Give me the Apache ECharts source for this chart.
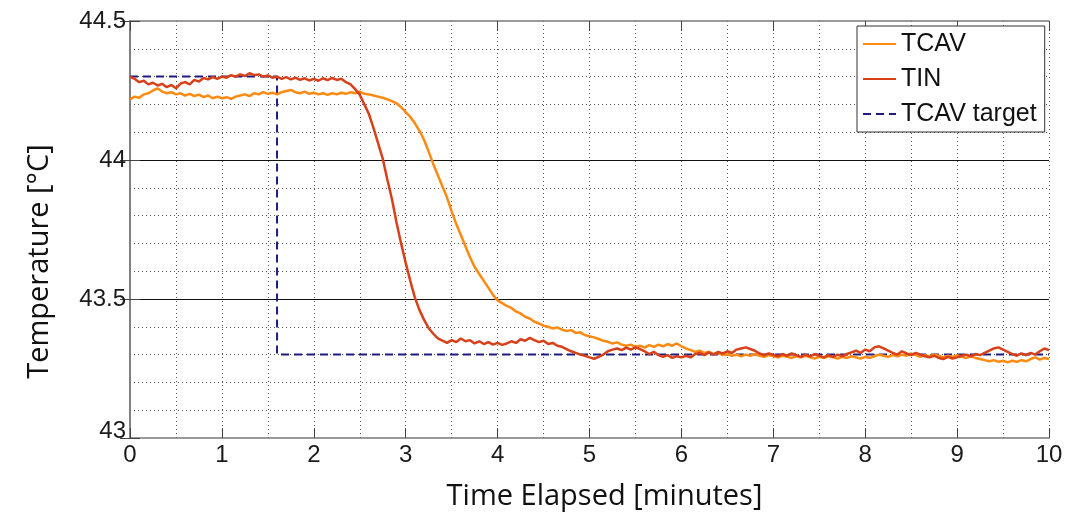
<!DOCTYPE html>
<html>
<head>
<meta charset="utf-8">
<script src="https://cdn.jsdelivr.net/npm/echarts@6/dist/echarts.min.js"></script>
<style>
html,body{margin:0;padding:0;background:#fff;}
#chart{width:1092px;height:516px;}
</style>
</head>
<body>
<div id="chart"></div>
<script>
// Sampling grid of the recorded traces (minutes)
const timeStart = 0;
const timeStep = 0.05;

// TCAV (°C), read every 0.05 min
const tcavValues = [
44.218,44.228,44.224,44.236,44.240,44.250,44.258,44.246,44.240,44.244,
44.236,44.240,44.232,44.238,44.230,44.235,44.226,44.232,44.222,44.228,
44.222,44.226,44.220,44.228,44.232,44.236,44.230,44.240,44.236,44.244,
44.238,44.242,44.236,44.244,44.248,44.252,44.244,44.240,44.246,44.238,
44.242,44.236,44.240,44.234,44.240,44.236,44.242,44.238,44.244,44.240,
44.246,44.238,44.236,44.232,44.228,44.224,44.218,44.212,44.204,44.190,
44.172,44.155,44.132,44.105,44.072,44.030,43.985,43.945,43.905,43.865,
43.815,43.770,43.730,43.690,43.650,43.615,43.590,43.565,43.540,43.515,
43.495,43.485,43.475,43.468,43.455,43.448,43.436,43.430,43.418,43.412,
43.404,43.400,43.394,43.398,43.390,43.385,43.388,43.378,43.380,43.370,
43.366,43.362,43.356,43.350,43.346,43.340,43.344,43.336,43.332,43.336,
43.328,43.332,43.325,43.334,43.328,43.336,43.330,43.338,43.332,43.340,
43.330,43.322,43.316,43.310,43.314,43.306,43.310,43.302,43.306,43.298,
43.302,43.296,43.300,43.294,43.300,43.296,43.302,43.296,43.292,43.298,
43.294,43.290,43.296,43.292,43.288,43.294,43.290,43.296,43.290,43.286,
43.292,43.288,43.294,43.290,43.286,43.292,43.288,43.294,43.290,43.286,
43.292,43.288,43.294,43.300,43.296,43.292,43.298,43.294,43.300,43.296,
43.304,43.298,43.292,43.298,43.294,43.300,43.296,43.290,43.296,43.292,
43.298,43.292,43.288,43.294,43.288,43.284,43.280,43.276,43.280,43.274,
43.278,43.272,43.278,43.274,43.280,43.276,43.284,43.290,43.282,43.288,
43.284
];

// TIN (°C), read every 0.05 min
const tinValues = [
44.300,44.292,44.280,44.285,44.272,44.278,44.268,44.274,44.262,44.270,
44.258,44.275,44.280,44.272,44.288,44.282,44.295,44.290,44.298,44.292,
44.300,44.296,44.305,44.300,44.308,44.302,44.312,44.305,44.308,44.300,
44.304,44.296,44.300,44.292,44.298,44.290,44.296,44.288,44.294,44.286,
44.292,44.285,44.294,44.287,44.295,44.288,44.292,44.280,44.272,44.255,
44.235,44.200,44.165,44.115,44.060,44.005,43.930,43.860,43.775,43.700,
43.630,43.565,43.505,43.460,43.425,43.395,43.375,43.358,43.350,43.342,
43.352,43.345,43.358,43.348,43.352,43.340,43.348,43.338,43.345,43.336,
43.342,43.335,43.340,43.348,43.342,43.355,43.350,43.360,43.352,43.345,
43.350,43.338,43.342,43.332,43.328,43.320,43.312,43.306,43.300,43.296,
43.290,43.285,43.292,43.300,43.312,43.318,43.322,43.316,43.325,43.318,
43.326,43.320,43.312,43.302,43.310,43.298,43.292,43.298,43.288,43.294,
43.290,43.296,43.290,43.302,43.306,43.298,43.308,43.300,43.310,43.304,
43.312,43.306,43.318,43.322,43.326,43.320,43.314,43.304,43.298,43.304,
43.300,43.294,43.302,43.296,43.304,43.298,43.292,43.300,43.294,43.302,
43.296,43.290,43.298,43.292,43.300,43.294,43.302,43.308,43.314,43.306,
43.318,43.312,43.326,43.330,43.322,43.314,43.306,43.300,43.312,43.304,
43.298,43.306,43.300,43.294,43.290,43.296,43.288,43.284,43.292,43.286,
43.290,43.296,43.300,43.294,43.302,43.298,43.306,43.314,43.322,43.326,
43.318,43.310,43.302,43.296,43.304,43.298,43.306,43.300,43.312,43.322,
43.316
];

// TCAV target step
const targetTimes = [0, 1.6, 1.6, 10];
const targetValues = [44.3, 44.3, 43.3, 43.3];

// Axis settings / tick labels
const xTicks = [0,1,2,3,4,5,6,7,8,9,10];
const yTicks = [43, 43.5, 44, 44.5];
const seriesNames = ['TCAV', 'TIN', 'TCAV target'];

function toPairs(values) {
  return values.map((v, i) => [+(timeStart + i * timeStep).toFixed(2), v]);
}
const targetPairs = targetTimes.map((t, i) => [t, targetValues[i]]);

const chart = echarts.init(document.getElementById('chart'), null, {renderer: 'canvas'});
const dotted = {color: '#555', width: 1, type: [1, 3]};
const frameColor = '#7a7a7a';
const labelFont = {fontFamily: 'Liberation Sans, Arial, sans-serif', fontSize: 24, color: '#1a1a1a'};
const titleFont = {fontFamily: 'Open Sans, Noto Sans, sans-serif', fontSize: 29, color: '#111'};

chart.setOption({
  animation: false,
  backgroundColor: '#fff',
  grid: {left: 130, right: 43, top: 21, bottom: 78, containLabel: false},
  legend: {
    data: seriesNames,
    orient: 'vertical',
    left: 857, top: 26,
    itemWidth: 33, itemHeight: 14, itemGap: 7,
    padding: [4, 8, 4, 5],
    backgroundColor: '#fff',
    borderColor: '#333', borderWidth: 1, borderRadius: 0,
    itemStyle: {opacity: 0},
    textStyle: {fontFamily: 'Liberation Sans, Arial, sans-serif', fontSize: 25, color: '#111', lineHeight: 28}
  },
  xAxis: [{
    type: 'value', min: xTicks[0], max: xTicks[xTicks.length-1], interval: 1,
    position: 'bottom',
    name: 'Time Elapsed [minutes]', nameLocation: 'middle', nameGap: 44,
    nameTextStyle: Object.assign({padding: [0,0,0,30]}, titleFont),
    axisLine: {lineStyle: {color: frameColor, width: 1.5}},
    axisTick: {inside: true, length: 10, lineStyle: {color: '#444'}},
    axisLabel: Object.assign({margin: 5}, labelFont),
    splitLine: {show: true, lineStyle: dotted},
    minorTick: {show: false, splitNumber: 2},
    minorSplitLine: {show: true, lineStyle: dotted}
  }, {
    type: 'value', min: 0, max: 10, interval: 1, position: 'top',
    axisLine: {lineStyle: {color: frameColor, width: 1.5}},
    axisTick: {inside: true, length: 10, lineStyle: {color: '#444'}},
    axisLabel: {show: false}, splitLine: {show: false}
  }],
  yAxis: [{
    type: 'value', min: yTicks[0], max: yTicks[yTicks.length-1], interval: 0.5,
    position: 'left',
    name: 'Temperature [°C]', nameLocation: 'middle', nameGap: 76,
    nameTextStyle: Object.assign({padding: [0,64,0,0]}, titleFont),
    axisLine: {lineStyle: {color: frameColor, width: 1.5}},
    axisTick: {inside: true, length: 10, lineStyle: {color: '#444'}},
    axisLabel: Object.assign({margin: 4, formatter: v => v === 43 ? '{low|43}' : String(v), rich: {low: Object.assign({padding: [0,0,14,0]}, labelFont)}}, labelFont),
    splitLine: {show: true, showMinLine: false, showMaxLine: false, lineStyle: {color: '#111', width: 1}},
    minorTick: {show: false, splitNumber: 5},
    minorSplitLine: {show: true, lineStyle: dotted}
  }, {
    type: 'value', min: 43, max: 44.5, interval: 0.5, position: 'right',
    axisLine: {show: true, lineStyle: {color: frameColor, width: 1.5}},
    axisTick: {show: true, inside: true, length: 10, lineStyle: {color: '#444'}},
    axisLabel: {show: false}, splitLine: {show: false}
  }],
  series: [{
    name: seriesNames[0], type: 'line', data: toPairs(tcavValues),
    symbol: 'none', showSymbol: false,
    lineStyle: {color: '#ff8a12', width: 2.5}, itemStyle: {color: '#ff8a12'}, z: 3
  }, {
    name: seriesNames[1], type: 'line', data: toPairs(tinValues),
    symbol: 'none', showSymbol: false,
    lineStyle: {color: '#d8401a', width: 2.5}, itemStyle: {color: '#d8401a'}, z: 4
  }, {
    name: seriesNames[2], type: 'line', data: targetPairs,
    symbol: 'none', showSymbol: false,
    lineStyle: {color: '#1c1c82', width: 2, type: [8, 5]}, itemStyle: {color: '#1c1c82'}, z: 2
  }]
});
</script>
</body>
</html>
